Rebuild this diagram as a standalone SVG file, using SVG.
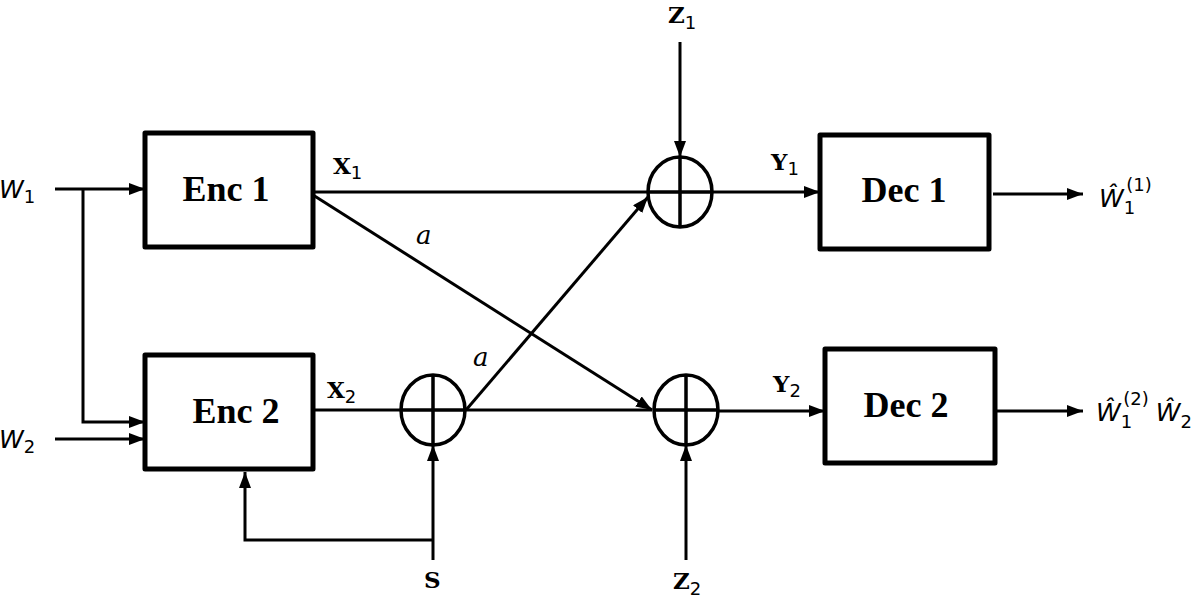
<svg xmlns="http://www.w3.org/2000/svg" width="1200" height="597" viewBox="0 0 1200 597">
<defs>
<marker id="ah" viewBox="0 0 16 12" refX="16" refY="6" markerWidth="16" markerHeight="12" markerUnits="userSpaceOnUse" orient="auto">
<path d="M0,0 L16,6 L0,12 z" fill="#000"/>
</marker>
<style>
.box{fill:#fff;stroke:#000;stroke-width:5;stroke-linejoin:round}
.sum{fill:none;stroke:#000;stroke-width:3.5}
.ln{fill:none;stroke:#000;stroke-width:3}
.arr{fill:none;stroke:#000;stroke-width:3;marker-end:url(#ah)}
.blk{font-family:"Liberation Serif",serif;font-weight:bold;font-size:36px;text-anchor:middle}
.var{font-family:"DejaVu Serif",serif;font-weight:bold;font-size:23px}
.sub{font-family:"DejaVu Sans",sans-serif;font-size:18px;font-weight:normal;font-style:normal}
.it{font-family:"DejaVu Sans",sans-serif;font-style:italic;font-size:25px}
.ai{font-family:"DejaVu Serif",serif;font-style:italic;font-size:26px}
</style>
</defs>
<g id="connectors">
<path class="arr" d="M55,189 H145"/>
<path class="arr" d="M83,189 V422 H145"/>
<path class="arr" d="M55,439 H145"/>
<path class="ln" d="M313,192 H648"/>
<path class="arr" d="M313,195 L652,410"/>
<path class="ln" d="M313,410 H401"/>
<path class="ln" d="M466,410 H652"/>
<path class="arr" d="M466,410 L648,197"/>
<path class="arr" d="M680,42 V157"/>
<path class="arr" d="M433,560 V445"/>
<path class="arr" d="M433,540 H245 V472"/>
<path class="arr" d="M686,560 V445"/>
<path class="arr" d="M712,192 H820"/>
<path class="arr" d="M719,411 H825"/>
<path class="arr" d="M993,194 H1083"/>
<path class="arr" d="M997,411 H1083"/>
</g>
<g id="enc1"><rect class="box" x="145" y="133" width="168" height="114"/><text class="blk" x="226" y="201">Enc 1</text></g>
<g id="enc2"><rect class="box" x="145" y="355" width="168" height="114"/><text class="blk" x="236" y="423">Enc 2</text></g>
<g id="dec1"><rect class="box" x="820" y="135" width="169" height="114"/><text class="blk" x="904" y="202">Dec 1</text></g>
<g id="dec2"><rect class="box" x="825" y="349" width="170" height="114"/><text class="blk" x="906" y="417">Dec 2</text></g>
<g id="sum1"><ellipse class="sum" cx="680" cy="192" rx="32" ry="35"/><path class="sum" d="M648,192 H712 M680,157 V227"/></g>
<g id="sumS"><ellipse class="sum" cx="433" cy="410" rx="32" ry="35"/><path class="sum" d="M401,410 H465 M433,375 V445"/></g>
<g id="sum2"><ellipse class="sum" cx="686" cy="410" rx="32" ry="35"/><path class="sum" d="M654,410 H718 M686,375 V445"/></g>
<g id="labels">
<text class="it" x="-1" y="198">W<tspan class="sub" dy="5">1</tspan></text>
<text class="it" x="-1" y="448">W<tspan class="sub" dy="5">2</tspan></text>
<text class="var" x="333" y="174">X<tspan class="sub" dy="5">1</tspan></text>
<text class="var" x="327" y="398">X<tspan class="sub" dy="5">2</tspan></text>
<text class="var" x="668" y="23">Z<tspan class="sub" dy="6">1</tspan></text>
<text class="var" x="673" y="589">Z<tspan class="sub" dy="6">2</tspan></text>
<text class="var" x="424" y="588">S</text>
<text class="var" x="771" y="170">Y<tspan class="sub" dy="5">1</tspan></text>
<text class="var" x="773" y="392">Y<tspan class="sub" dy="5">2</tspan></text>
<text class="ai" x="416" y="244">a</text>
<text class="ai" x="473" y="366">a</text>
<text class="it" x="1099" y="207">Ŵ<tspan class="sub" dy="7">1</tspan><tspan class="sub" dx="-9" dy="-23">(1)</tspan></text>
<text class="it" x="1096" y="421">Ŵ<tspan class="sub" dy="7">1</tspan><tspan class="sub" dx="-9" dy="-23">(2)</tspan><tspan dx="7" dy="16">Ŵ</tspan><tspan class="sub" dy="7">2</tspan></text>
</g>
</svg>
